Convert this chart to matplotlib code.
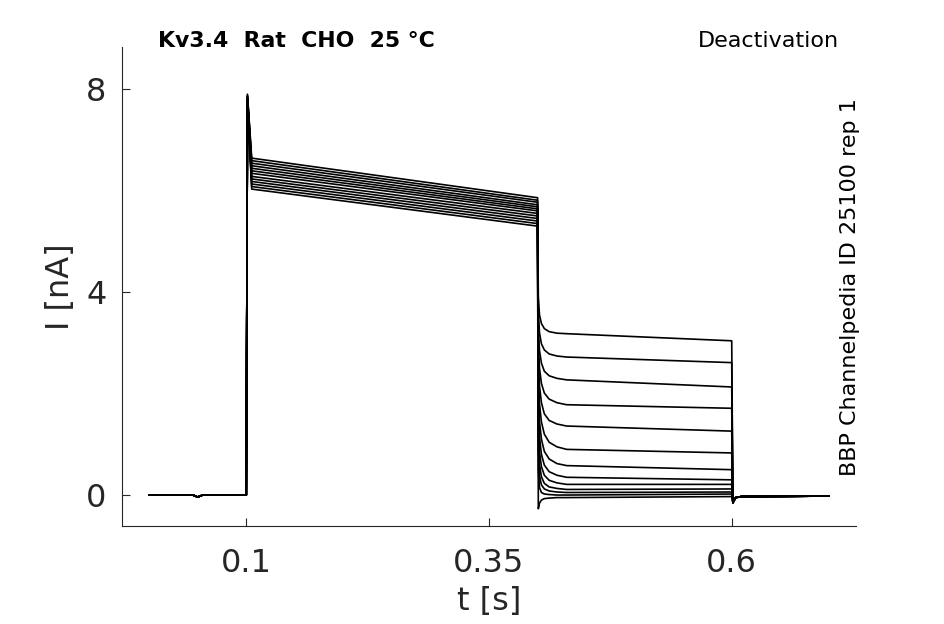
import matplotlib
matplotlib.use("Agg")  # no display
import matplotlib.pyplot as plt

# -----------------------------
# Values (13 sweeps, top to bottom)
# -----------------------------
# holding segment, shared by every sweep
base_t = [0.0, 0.045, 0.05, 0.055, 0.1]
base_i = [0.0, 0.0, -0.04, 0.0, 0.0]

# activating step 0.1 .. 0.4 s
peak_t = 0.1012
peak_i = [7.90, 7.88, 7.86, 7.85, 7.84, 7.82, 7.80, 7.79, 7.78, 7.76, 7.75, 7.74, 7.72]
plateau_t = [0.1056, 0.4]
plateau_start = [6.64, 6.59, 6.54, 6.49, 6.44, 6.39, 6.34, 6.28, 6.23, 6.18, 6.13, 6.08, 6.03]
plateau_end = [5.86, 5.81, 5.77, 5.72, 5.68, 5.64, 5.60, 5.55, 5.50, 5.45, 5.40, 5.35, 5.30]

# deactivation tails 0.4 .. 0.6 s
tail_t = [0.4008, 0.402, 0.404, 0.407, 0.412, 0.42, 0.43, 0.6]
tail_i = [
    [3.90, 3.55, 3.38, 3.28, 3.22, 3.19, 3.18, 3.04],
    [3.60, 3.20, 2.98, 2.86, 2.78, 2.74, 2.72, 2.61],
    [3.30, 2.85, 2.60, 2.44, 2.35, 2.30, 2.27, 2.13],
    [3.00, 2.50, 2.20, 2.01, 1.89, 1.82, 1.78, 1.71],
    [2.70, 2.15, 1.82, 1.60, 1.47, 1.40, 1.36, 1.26],
    [2.40, 1.80, 1.44, 1.20, 1.04, 0.95, 0.90, 0.83],
    [2.10, 1.45, 1.10, 0.86, 0.71, 0.62, 0.58, 0.50],
    [1.80, 1.15, 0.80, 0.59, 0.46, 0.39, 0.35, 0.30],
    [1.50, 0.85, 0.56, 0.39, 0.29, 0.24, 0.21, 0.21],
    [1.20, 0.60, 0.36, 0.23, 0.16, 0.13, 0.11, 0.12],
    [0.90, 0.38, 0.20, 0.12, 0.08, 0.06, 0.05, 0.06],
    [0.50, 0.15, 0.05, 0.02, 0.01, 0.00, 0.00, 0.02],
    [-0.27, -0.16, -0.10, -0.07, -0.06, -0.05, -0.05, -0.03],
]

# back to holding, shared
post_t = [0.6012, 0.604, 0.61, 0.7]
post_i = [-0.15, -0.05, -0.03, -0.02]

xticks = [0.1, 0.35, 0.6]
yticks = [0, 4, 8]

grey = "#262626"

fig = plt.figure(figsize=(9.45, 6.24), dpi=100)
ax = fig.add_axes([122 / 945, 1 - 526 / 624, 734 / 945, 479 / 624])

for k in range(len(peak_i)):
    t = base_t + [peak_t] + plateau_t + tail_t + post_t
    i = (base_i + [peak_i[k]] + [plateau_start[k], plateau_end[k]]
         + tail_i[k] + post_i)
    ax.plot(t, i, color="black", lw=1.2)

ax.set_xlim(-0.028, 0.728)
ax.set_ylim(-0.61, 8.83)
ax.set_xticks(xticks)
ax.set_xticklabels([str(x) for x in xticks])
ax.set_yticks(yticks)

for side in ["top", "right"]:
    ax.spines[side].set_visible(False)
for side in ["left", "bottom"]:
    ax.spines[side].set_color(grey)
    ax.spines[side].set_linewidth(0.8)

ax.tick_params(direction="in", length=6, width=0.8, colors=grey, labelsize=23)
ax.tick_params(axis="x", pad=16)
ax.tick_params(axis="y", pad=11)

ax.set_xlabel("t [s]", color=grey, fontsize=23)
ax.set_ylabel("I [nA]", color=grey, fontsize=23)
ax.xaxis.set_label_coords(0.5, -0.125)
ax.yaxis.set_label_coords(-0.062, 0.5)

fig.text(158 / 945, 1 - 47 / 624, "Kv3.4  Rat  CHO  25 \u00b0C",
         fontsize=15.8, fontweight="bold", ha="left", va="baseline")
fig.text(839 / 945, 1 - 47 / 624, "Deactivation",
         fontsize=16, ha="right", va="baseline")
fig.text(850 / 945, 1 - 287 / 624, "BBP Channelpedia ID 25100 rep 1",
         fontsize=16, rotation=90, ha="center", va="center")

fig.savefig("out.png", dpi=100)
plt.close(fig)
